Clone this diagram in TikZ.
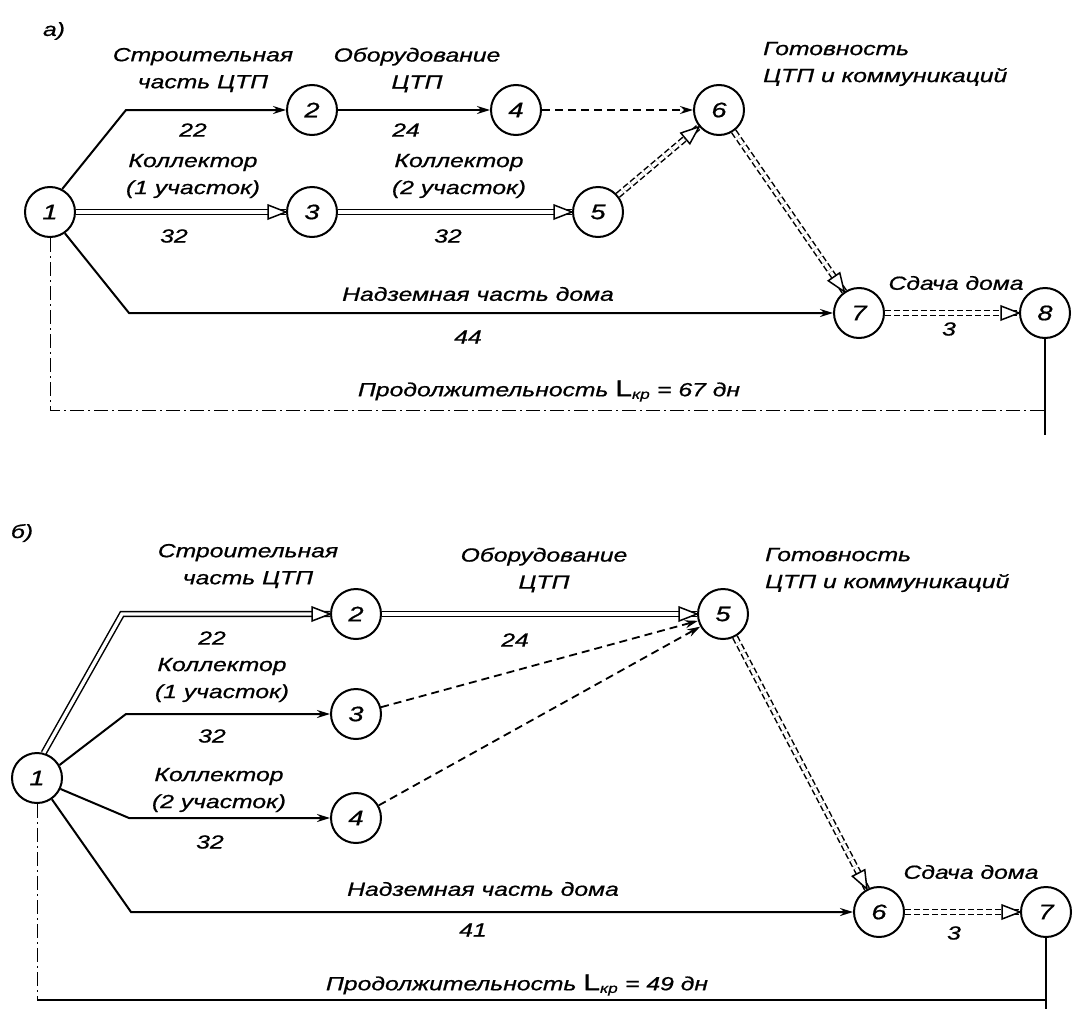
\documentclass[tikz,border=0pt]{standalone}
\usepackage{fontspec}
\setmainfont{Liberation Sans}[FakeStretch=1.3,FakeBold=0.8]
\usetikzlibrary{arrows.meta,decorations.markings}
\begin{document}
\begin{tikzpicture}[x=1pt,y=-1pt,
  font=\fontsize{19}{27}\selectfont\itshape,
  ev/.style={circle,draw,line width=2pt,minimum size=50pt,inner sep=0pt,
    font=\fontsize{21}{21}\selectfont\itshape},
  job/.style={line width=2pt,-{Stealth[length=13pt,width=8pt]}},
  dum/.style={line width=1.8pt,dash pattern=on 8pt off 5pt,-{Stealth[length=13pt,width=8pt]}},
  opentip/.style={postaction={decorate,decoration={markings,
    mark=at position 1 with {\draw[solid,line width=1.5pt,fill=white,line join=miter]
      (0pt,0pt) -- (-18pt,7pt) -- (-18pt,-7pt) -- cycle;}}}},
  crit/.style={line width=1.5pt,double,double distance=3.4pt,opentip},
  critdum/.style={crit,dash pattern=on 6pt off 3pt},
  lbl/.style={align=center,inner sep=0pt},
  lbll/.style={align=left,inner sep=0pt,anchor=west},
  frame/.style={line width=1pt,dash pattern=on 14pt off 4pt on 2pt off 4pt},
  rim/.style={line width=1.2pt},
]
\useasboundingbox (0,0) rectangle (1073,1009);

% ---------- variant a) ----------
\node[lbl] (ta) at (54,31) {а)};
\node[ev] (a1) at (50,212) {1};
\node[ev] (a2) at (312,110) {2};
\node[ev] (a3) at (312,212) {3};
\node[ev] (a4) at (516,110) {4};
\node[ev] (a5) at (598,212) {5};
\node[ev] (a6) at (719,110) {6};
\node[ev] (a7) at (859,313) {7};
\node[ev] (a8) at (1045,313) {8};
\coordinate (a12) at (126,110);
\coordinate (a17) at (129,313);

\draw[job] (a1.62) -- (a12) -- (a2);
\draw[job] (a2) -- (a4);
\draw[dum] (a4) -- (a6);
\draw[crit] (a1) -- (a3);
\draw[crit] (a3) -- (a5);
\draw[critdum] (a5) -- (a6);
\draw[critdum] (a6) -- (a7);
\draw[job] (a1.-55) -- (a17) -- (a7);
\draw[critdum] (a7) -- (a8);

\node[lbl] (la12) at (203,70) {Строительная\\часть ЦТП};
\node[lbl] (da12) at (193,130) {22};
\node[lbl] (la24) at (417,70) {Оборудование\\ЦТП};
\node[lbl] (da24) at (406,130) {24};
\node[lbl] (la13) at (193,176) {Коллектор\\(1 участок)};
\node[lbl] (da13) at (174,236) {32};
\node[lbl] (la35) at (459,176) {Коллектор\\(2 участок)};
\node[lbl] (da35) at (448,236) {32};
\node[lbll] (la6) at (763,64) {Готовность\\ЦТП и коммуникаций};
\node[lbl] (la17) at (478,294) {Надземная часть дома};
\node[lbl] (da17) at (468,337) {44};
\node[lbl] (la78) at (956,283) {Сдача дома};
\node[lbl] (da78) at (949,329) {3};
\node[lbl] (lat) at (549,391) {Продолжительность {\upshape\fontsize{23}{23}\selectfont L}\textsubscript{кр} = 67 дн};

\coordinate (aL) at (50,410);
\coordinate (aR) at (1045,410);
\coordinate (aE) at (1045,435);
\draw[frame] (a1) -- (aL) -- (aR);
\draw[rim] (a8) -- (aE);

% ---------- variant б) ----------
\node[lbl] (tb) at (22,533) {б)};
\node[ev] (b1) at (37,778) {1};
\node[ev] (b2) at (356,614) {2};
\node[ev] (b3) at (356,714) {3};
\node[ev] (b4) at (356,818) {4};
\node[ev] (b5) at (723,614) {5};
\node[ev] (b6) at (879,912) {6};
\node[ev] (b7) at (1046,912) {7};
\coordinate (b12) at (122,614);
\coordinate (b13) at (126,714);
\coordinate (b14) at (129,818);
\coordinate (b16) at (131,912);

\draw[crit] (b1.75) -- (b12) -- (b2);
\draw[crit] (b2) -- (b5);
\draw[job] (b1.30) -- (b13) -- (b3);
\draw[job] (b1.-25) -- (b14) -- (b4);
\draw[job] (b1.-55) -- (b16) -- (b6);
\draw[dum] (b3) -- (b5);
\draw[dum] (b4) -- (b5);
\draw[critdum] (b5) -- (b6);
\draw[critdum] (b6) -- (b7);

\node[lbl] (lb12) at (248,566) {Строительная\\часть ЦТП};
\node[lbl] (db12) at (212,638) {22};
\node[lbl] (lb25) at (544,570) {Оборудование\\ЦТП};
\node[lbl] (db25) at (515,640) {24};
\node[lbll] (lb5) at (765,570) {Готовность\\ЦТП и коммуникаций};
\node[lbl] (lb13) at (222,680) {Коллектор\\(1 участок)};
\node[lbl] (db13) at (212,736) {32};
\node[lbl] (lb14) at (219,790) {Коллектор\\(2 участок)};
\node[lbl] (db14) at (210,842) {32};
\node[lbl] (lb16) at (483,889) {Надземная часть дома};
\node[lbl] (db16) at (473,930) {41};
\node[lbl] (lb67) at (971,872) {Сдача дома};
\node[lbl] (db67) at (954,933) {3};
\node[lbl] (lbt) at (517,985) {Продолжительность {\upshape\fontsize{23}{23}\selectfont L}\textsubscript{кр} = 49 дн};

\coordinate (bL) at (37,1000);
\coordinate (bR) at (1046,1000);
\coordinate (bE) at (1046,1009);
\draw[frame] (b1) -- (bL);
\draw[rim] (bL) -- (bR);
\draw[rim] (b7) -- (bE);
\end{tikzpicture}
\end{document}
